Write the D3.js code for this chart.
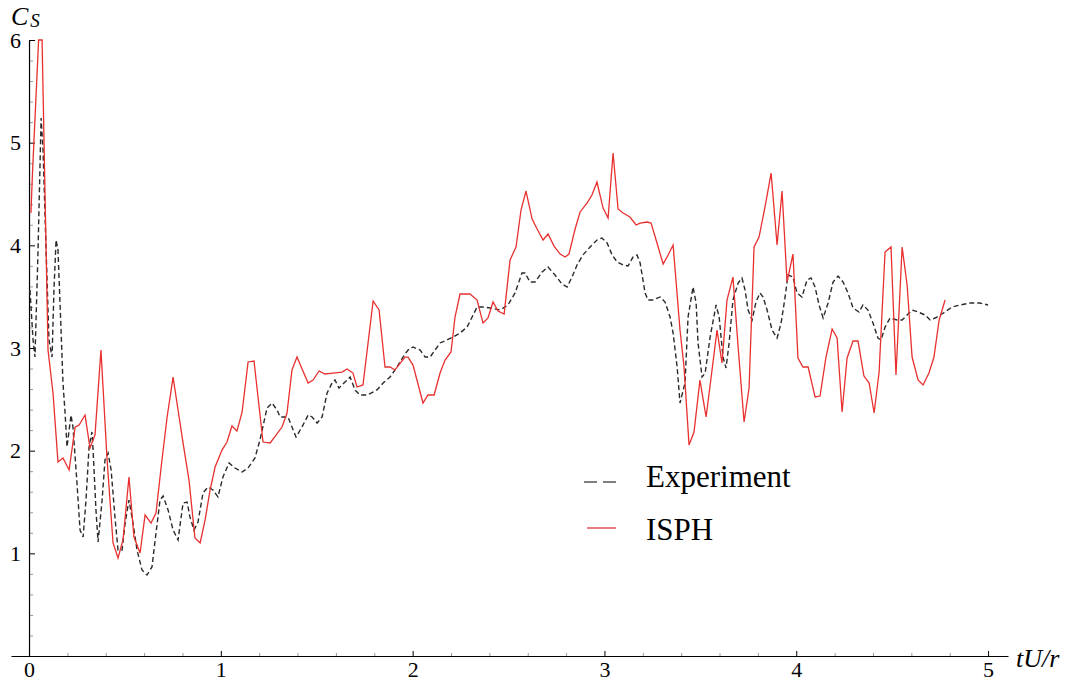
<!DOCTYPE html>
<html>
<head>
<meta charset="utf-8">
<script src="https://cdn.jsdelivr.net/npm/d3@7"></script>
<style>
  body { margin: 0; background: #fff; }
  text { font-family: "Liberation Serif", "Times New Roman", serif; fill: #000; }
</style>
</head>
<body>
<div id="viz"></div>
<script>
const width = 1071;
const height = 683;

// Experiment (dashed black): time tU/r and Cs
const expT = [0.005,0.021,0.031,0.047,0.063,0.073,0.089,0.104,0.120,0.130,0.141,0.151,0.167,0.177,0.188,0.198,0.219,0.229,0.250,0.266,
  0.282,0.297,0.313,0.328,0.334,0.349,0.360,0.381,0.396,0.412,0.428,0.448,0.464,0.485,0.501,0.521,0.542,0.563,0.589,0.615,
  0.641,0.662,0.683,0.699,0.725,0.751,0.777,0.803,0.824,0.839,0.860,0.881,0.907,0.933,0.959,0.985,1.011,1.043,1.074,1.111,
  1.142,1.178,1.204,1.241,1.267,1.293,1.309,1.350,1.371,1.392,1.423,1.455,1.476,1.502,1.528,1.554,1.580,1.595,1.616,1.642,
  1.674,1.700,1.726,1.762,1.814,1.846,1.882,1.919,1.950,1.976,2.002,2.039,2.065,2.091,2.117,2.143,2.179,2.211,2.247,2.284,
  2.310,2.336,2.367,2.404,2.456,2.497,2.534,2.570,2.586,2.612,2.638,2.675,2.706,2.742,2.779,2.805,2.831,2.857,2.888,2.925,
  2.961,2.987,3.014,3.040,3.066,3.097,3.123,3.149,3.170,3.186,3.212,3.227,3.253,3.290,3.316,3.342,3.358,3.379,3.394,3.420,
  3.436,3.462,3.478,3.488,3.509,3.525,3.551,3.582,3.598,3.618,3.634,3.650,3.670,3.697,3.717,3.733,3.749,3.770,3.790,3.811,
  3.827,3.848,3.874,3.900,3.921,3.942,3.957,3.983,4.004,4.030,4.056,4.077,4.098,4.119,4.140,4.166,4.192,4.218,4.244,4.270,
  4.296,4.327,4.348,4.374,4.400,4.426,4.442,4.463,4.489,4.526,4.552,4.578,4.604,4.635,4.672,4.698,4.724,4.750,4.776,4.812,
  4.854,4.906,4.958,5.000];
const expCs = [3.565,3.078,2.912,3.954,5.240,4.928,3.954,3.078,2.912,3.565,4.052,3.954,3.175,2.659,2.367,2.036,2.347,2.230,1.685,1.227,
  1.159,1.519,2.036,2.182,2.006,1.422,1.110,1.519,1.909,1.977,1.812,1.354,1.032,1.032,1.295,1.519,1.295,1.032,0.838,0.789,
  0.867,1.198,1.519,1.558,1.422,1.227,1.130,1.490,1.500,1.354,1.227,1.305,1.588,1.646,1.617,1.549,1.743,1.880,1.831,1.792,
  1.831,1.929,2.104,2.416,2.464,2.396,2.328,2.328,2.230,2.133,2.230,2.347,2.328,2.269,2.328,2.562,2.659,2.688,2.610,2.659,
  2.717,2.591,2.542,2.542,2.591,2.659,2.717,2.815,2.912,2.980,3.010,2.980,2.912,2.912,2.980,3.049,3.078,3.107,3.146,3.204,
  3.302,3.399,3.399,3.390,3.370,3.419,3.536,3.730,3.730,3.643,3.643,3.740,3.789,3.711,3.623,3.594,3.691,3.808,3.906,3.984,
  4.052,4.071,4.023,3.906,3.838,3.808,3.799,3.886,3.906,3.828,3.536,3.467,3.467,3.497,3.448,3.302,3.146,2.815,2.464,2.659,
  3.302,3.594,3.438,3.049,2.717,2.756,3.107,3.419,3.302,2.912,2.805,3.049,3.467,3.633,3.682,3.565,3.370,3.273,3.448,3.536,
  3.497,3.370,3.175,3.097,3.243,3.497,3.711,3.691,3.536,3.497,3.662,3.682,3.594,3.419,3.292,3.438,3.643,3.701,3.643,3.536,
  3.390,3.351,3.419,3.370,3.243,3.097,3.078,3.204,3.292,3.273,3.273,3.321,3.370,3.351,3.321,3.273,3.292,3.321,3.351,3.399,
  3.419,3.438,3.438,3.419];

// ISPH (solid red)
const isphT = [0.010,0.018,0.050,0.068,0.099,0.125,0.151,0.177,0.209,0.240,0.261,0.292,0.318,0.344,0.375,0.407,0.438,0.464,0.490,0.521,
  0.547,0.579,0.605,0.636,0.662,0.693,0.720,0.751,0.777,0.803,0.834,0.865,0.892,0.918,0.944,0.970,1.006,1.032,1.058,1.084,
  1.111,1.142,1.173,1.220,1.257,1.319,1.345,1.371,1.397,1.455,1.481,1.512,1.543,1.585,1.632,1.658,1.689,1.710,1.741,1.794,
  1.825,1.856,1.882,1.908,1.960,1.976,2.002,2.054,2.080,2.112,2.143,2.169,2.200,2.221,2.247,2.299,2.336,2.367,2.393,2.419,
  2.445,2.477,2.508,2.539,2.565,2.591,2.623,2.649,2.680,2.706,2.737,2.769,2.795,2.815,2.847,2.873,2.909,2.935,2.961,2.993,
  3.019,3.045,3.071,3.097,3.133,3.165,3.186,3.222,3.243,3.274,3.306,3.332,3.358,3.394,3.415,3.441,3.467,3.498,3.530,3.561,
  3.587,3.613,3.639,3.670,3.697,3.728,3.754,3.780,3.806,3.837,3.869,3.900,3.926,3.952,3.983,4.009,4.035,4.062,4.098,4.124,
  4.155,4.187,4.213,4.239,4.265,4.296,4.322,4.353,4.380,4.406,4.432,4.463,4.494,4.520,4.552,4.578,4.604,4.635,4.661,4.692,
  4.718,4.745,4.776];
const isphCs = [4.315,4.704,6.000,6.000,2.980,2.562,1.890,1.929,1.812,2.230,2.250,2.347,2.026,2.153,2.980,1.909,1.101,0.955,1.130,1.743,
  1.159,1.003,1.373,1.295,1.393,1.909,2.328,2.717,2.396,2.075,1.714,1.149,1.101,1.325,1.617,1.841,2.006,2.084,2.240,2.191,
  2.377,2.864,2.873,2.084,2.075,2.230,2.367,2.786,2.912,2.659,2.688,2.776,2.747,2.756,2.766,2.795,2.756,2.620,2.640,3.458,
  3.370,2.815,2.815,2.786,2.912,2.912,2.834,2.464,2.542,2.542,2.756,2.883,2.961,3.302,3.526,3.526,3.467,3.243,3.292,3.448,
  3.360,3.331,3.857,3.984,4.344,4.529,4.256,4.159,4.052,4.110,3.993,3.915,3.886,3.915,4.159,4.325,4.412,4.490,4.617,4.363,
  4.266,4.899,4.354,4.315,4.276,4.198,4.217,4.227,4.217,4.023,3.818,3.906,4.003,3.175,2.815,2.055,2.182,2.688,2.328,2.786,
  3.175,2.854,3.467,3.691,3.010,2.279,2.610,3.984,4.081,4.373,4.704,4.003,4.529,3.643,3.915,2.903,2.815,2.815,2.523,2.532,
  2.912,3.185,3.097,2.377,2.903,3.068,3.068,2.727,2.659,2.367,2.766,3.935,3.984,2.737,3.984,3.614,2.912,2.688,2.640,2.756,
  2.912,3.273,3.467];

const xMajor = [0, 1, 2, 3, 4, 5];
const yMajor = [1, 2, 3, 4, 5, 6];

const svg = d3.select('#viz')
  .append('svg')
    .attr('width', width)
    .attr('height', height);

const scaleX = d3.scaleLinear()
  .domain([-0.094, 5.104])
  .range([11, 1008]);

const scaleY = d3.scaleLinear()
  .domain([0, 6])
  .range([656, 40]);

// minor ticks every 0.2
const xMinor = d3.range(0, 5.01, 0.2).map(v => +v.toFixed(1)).filter(v => !Number.isInteger(v));
const yMinor = d3.range(0, 6.01, 0.2).map(v => +v.toFixed(1)).filter(v => !Number.isInteger(v));

svg.append('g')
  .attr('transform', `translate(0,${scaleY(0)})`)
  .call(d3.axisBottom(scaleX).tickValues(xMinor).tickSize(-3).tickFormat(''))
  .call(g => g.select('.domain').remove())
  .call(g => g.selectAll('line').attr('stroke', '#999'));

svg.append('g')
  .attr('transform', `translate(${scaleX(0)},0)`)
  .call(d3.axisLeft(scaleY).tickValues(yMinor).tickSize(-4).tickFormat(''))
  .call(g => g.select('.domain').remove())
  .call(g => g.selectAll('line').attr('stroke', '#999'));

const xAxis = svg.append('g')
  .attr('transform', `translate(0,${scaleY(0)})`)
  .call(d3.axisBottom(scaleX).tickValues(xMajor).tickSizeInner(-5).tickSizeOuter(0).tickPadding(6).tickFormat(d3.format('d')));
xAxis.selectAll('text').style('font-size', '22px').attr('dy', '0.68em');

const yAxis = svg.append('g')
  .attr('transform', `translate(${scaleX(0)},0)`)
  .call(d3.axisLeft(scaleY).tickValues(yMajor).tickSizeInner(-6).tickSizeOuter(0).tickPadding(8).tickFormat(d3.format('d')));
yAxis.selectAll('text').style('font-size', '22px');

svg.selectAll('.domain').attr('stroke', '#000').attr('stroke-width', 1.2);
svg.selectAll('.tick line').attr('stroke-width', 1);

// axis labels
const cs = svg.append('text')
  .attr('x', 11)
  .attr('y', 25)
  .style('font-style', 'italic');
cs.append('tspan').style('font-size', '26px').text('C');
cs.append('tspan').style('font-size', '19px').attr('dx', 2).attr('dy', 2).text('S');

svg.append('text')
  .attr('x', 1016)
  .attr('y', 667)
  .style('font-style', 'italic')
  .style('font-size', '26px')
  .text('tU/r');

// series
const line = d3.line()
  .x(d => scaleX(d[0]))
  .y(d => scaleY(d[1]));

svg.append('path')
  .datum(d3.zip(expT, expCs))
  .attr('fill', 'none')
  .attr('stroke', '#2a2a2a')
  .attr('stroke-width', 1.4)
  .attr('stroke-dasharray', '5,3')
  .attr('d', line);

svg.append('path')
  .datum(d3.zip(isphT, isphCs))
  .attr('fill', 'none')
  .attr('stroke', '#e8302f')
  .attr('stroke-width', 1.3)
  .attr('d', line);

// legend
const legend = [
  { label: 'Experiment', color: '#000', dash: '13,6', x1: 584, y: 482, ty: 487 },
  { label: 'ISPH', color: '#d9242a', dash: null, x1: 587, y: 528, ty: 540 }
];
const lg = svg.append('g').attr('class', 'legend');
legend.forEach(l => {
  lg.append('line')
    .attr('x1', l.x1).attr('x2', 616)
    .attr('y1', l.y).attr('y2', l.y)
    .attr('stroke', l.color)
    .attr('stroke-width', 1.2)
    .attr('stroke-dasharray', l.dash);
  lg.append('text')
    .attr('x', 646)
    .attr('y', l.ty)
    .style('font-size', '31px')
    .text(l.label);
});
</script>
</body>
</html>
